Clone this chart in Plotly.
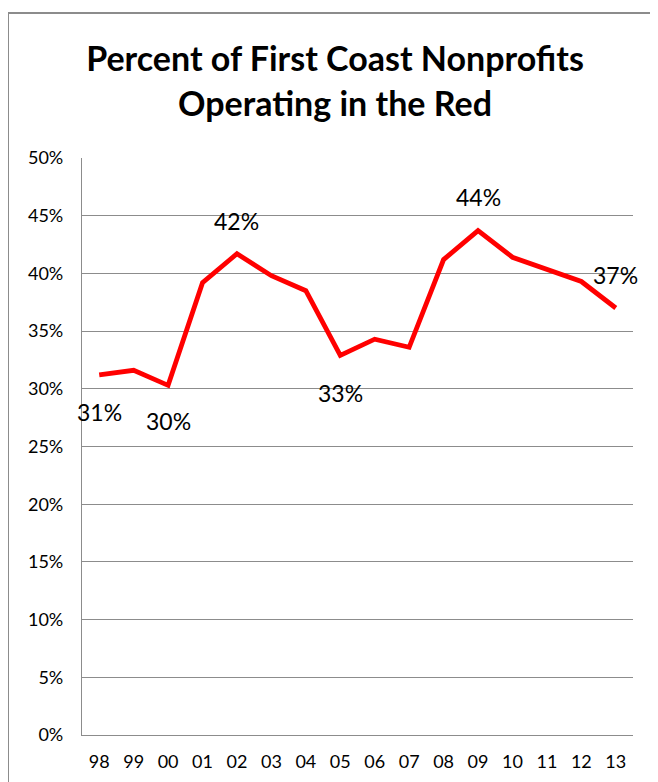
import plotly.graph_objects as go

years = ["98", "99", "00", "01", "02", "03", "04", "05", "06", "07", "08", "09", "10", "11", "12", "13"]
pct = [31.2, 31.6, 30.3, 39.2, 41.7, 39.8, 38.5, 32.9, 34.3, 33.6, 41.2, 43.7, 41.4, 40.4, 39.3, 37.0]
label_idx = [0, 2, 4, 7, 11, 15]
label_shift = [-37, -36, 33, -38, 34, 33]
y_ticks = [0, 5, 10, 15, 20, 25, 30, 35, 40, 45, 50]

FONT = "Lato"
GRID = "#8c8c8c"

fig = go.Figure()
fig.add_trace(go.Scatter(
    x=list(range(len(years))), y=pct, mode="lines",
    line=dict(color="#ff0000", width=4.8),
    hoverinfo="skip", showlegend=False,
))

annotations = []
for i, s in zip(label_idx, label_shift):
    annotations.append(dict(
        x=i, y=pct[i], xref="x", yref="y",
        text=f"{round(pct[i])}%", showarrow=False, yshift=s,
        font=dict(family=FONT, size=23, color="#000000"),
    ))

fig.update_layout(
    width=658, height=782,
    paper_bgcolor="white", plot_bgcolor="white",
    margin=dict(l=74, r=33, t=150, b=55),
    title=dict(
        text="<b>Percent of First Coast Nonprofits<br>Operating in the Red</b>",
        x=0.497, xref="container", xanchor="center",
        y=0.919, yref="container", yanchor="top",
        font=dict(family=FONT, size=34, color="#000000"),
    ),
    xaxis=dict(
        range=[-0.5, 15.5],
        tickvals=list(range(len(years))), ticktext=years,
        showgrid=False, showline=True, linecolor=GRID, linewidth=1.3,
        zeroline=False,
        ticks="", tickfont=dict(family=FONT, size=18, color="#000000"),
        ticklabelstandoff=10,
    ),
    yaxis=dict(
        range=[0, 50], tickvals=y_ticks, ticktext=[f"{v}%" for v in y_ticks],
        showgrid=True, gridcolor=GRID, gridwidth=1.3,
        zeroline=False, showline=True, linecolor=GRID, linewidth=1.3,
        ticks="", tickfont=dict(family=FONT, size=18, color="#000000"),
        ticklabelstandoff=14,
    ),
    annotations=annotations,
    shapes=[dict(
        type="rect", xref="paper", yref="paper",
        x0=-74 / 551, x1=1.2, y0=-0.2, y1=1 + (150 - 5) / 577,
        line=dict(color="#8c8c8c", width=2), fillcolor="rgba(0,0,0,0)",
        layer="below",
    )],
)

fig.write_html("out.html")
